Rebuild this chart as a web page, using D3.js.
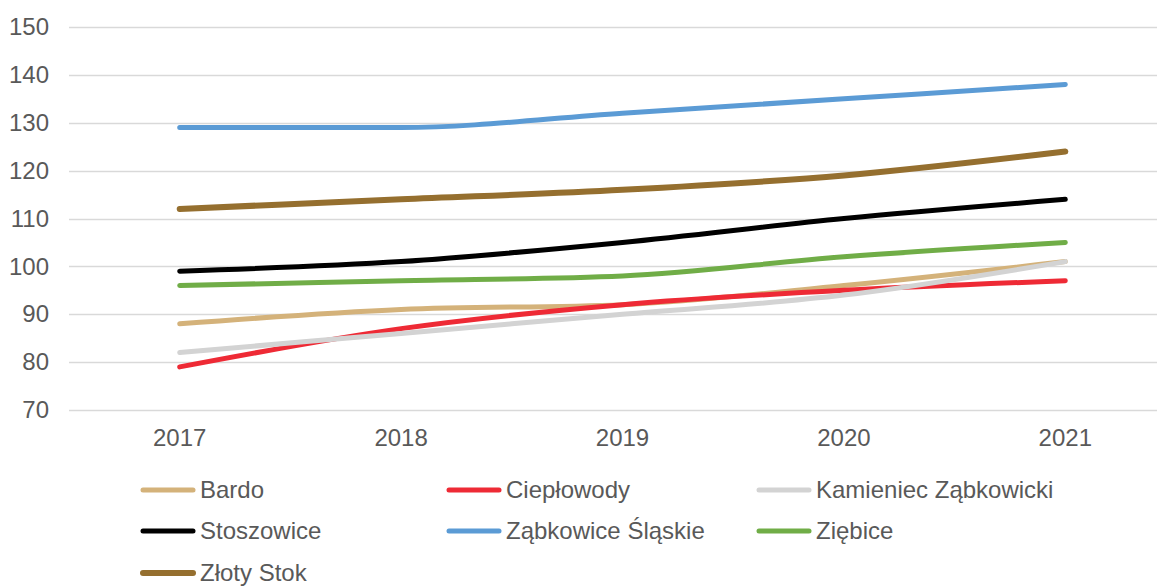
<!DOCTYPE html>
<html>
<head>
<meta charset="utf-8">
<script src="https://cdn.jsdelivr.net/npm/d3@7"></script>
<style>
  body { margin: 0; background: #fff; }
  svg { display: block; font-family: "Liberation Sans", Arial, sans-serif; }
</style>
</head>
<body>
<svg id="chart" width="1157" height="586"></svg>
<script>
// data
const years = ["2017", "2018", "2019", "2020", "2021"];
const yTicks = [70, 80, 90, 100, 110, 120, 130, 140, 150];

const bardo = [88, 91, 92, 96, 101];
const cieplowody = [79, 87, 92, 95, 97];
const kamieniec = [82, 86, 90, 94, 101];
const stoszowice = [99, 101, 105, 110, 114];
const zabkowice = [129, 129, 132, 135, 138];
const ziebice = [96, 97, 98, 102, 105];
const zlotyStok = [112, 114, 116, 119, 124];

const series = [
    { name: "Bardo", values: bardo, color: "#d4b27a", width: 5 },
    { name: "Ciepłowody", values: cieplowody, color: "#ee2a35", width: 5 },
    { name: "Kamieniec Ząbkowicki", values: kamieniec, color: "#d3d3d3", width: 5 },
    { name: "Stoszowice", values: stoszowice, color: "#000000", width: 5 },
    { name: "Ząbkowice Śląskie", values: zabkowice, color: "#5b9bd5", width: 5 },
    { name: "Ziębice", values: ziebice, color: "#70ad47", width: 5 },
    { name: "Złoty Stok", values: zlotyStok, color: "#956f2f", width: 6 }
];

const svg = d3.select("#chart");

const x = d3.scaleBand()
    .domain(years)
    .range([69, 1176]);

const y = d3.scaleLinear()
    .domain([70, 150])
    .range([410, 27]);

// gridlines
svg.append("g")
    .selectAll("line")
    .data(yTicks)
    .join("line")
    .attr("x1", 69)
    .attr("x2", 1157)
    .attr("y1", d => Math.round(y(d)) + 0.5)
    .attr("y2", d => Math.round(y(d)) + 0.5)
    .attr("stroke", "#d9d9d9")
    .attr("stroke-width", 1.5);

// y axis labels
const yAxis = svg.append("g")
    .attr("transform", "translate(49,0)")
    .call(d3.axisLeft(y).tickValues(yTicks).tickSize(0).tickPadding(0));
yAxis.select(".domain").remove();
yAxis.selectAll("text")
    .attr("fill", "#595959")
    .style("font-size", "24px")
    .style("font-family", "'Liberation Sans', Arial, sans-serif");

// x axis labels
const xAxis = svg.append("g")
    .attr("transform", "translate(0,429)")
    .call(d3.axisBottom(x).tickSize(0).tickPadding(0));
xAxis.select(".domain").remove();
xAxis.selectAll("text")
    .attr("fill", "#595959")
    .style("font-size", "24px")
    .style("font-family", "'Liberation Sans', Arial, sans-serif");

// smoothed lines like the spreadsheet
const line = d3.line()
    .x((d, i) => x(years[i]) + x.bandwidth() / 2)
    .y(d => y(d))
    .curve(d3.curveMonotoneX);

svg.append("g")
    .selectAll("path")
    .data(series)
    .join("path")
    .attr("d", d => line(d.values))
    .attr("fill", "none")
    .attr("stroke", d => d.color)
    .attr("stroke-width", d => d.width)
    .attr("stroke-linecap", "round")
    .attr("stroke-linejoin", "round");

// legend, 3 columns
const colX = [141, 447, 757];
const rowY = [490, 531, 573];

const legend = svg.append("g")
    .selectAll("g")
    .data(series)
    .join("g")
    .attr("transform", (d, i) => `translate(${colX[i % 3]},${rowY[Math.floor(i / 3)]})`);

legend.append("line")
    .attr("x1", 2)
    .attr("x2", 52)
    .attr("y1", 0)
    .attr("y2", 0)
    .attr("stroke", d => d.color)
    .attr("stroke-width", d => d.width)
    .attr("stroke-linecap", "round");

legend.append("text")
    .attr("x", 59)
    .attr("y", 0)
    .attr("dy", "0.35em")
    .attr("fill", "#595959")
    .style("font-size", "24px")
    .text(d => d.name);
</script>
</body>
</html>
